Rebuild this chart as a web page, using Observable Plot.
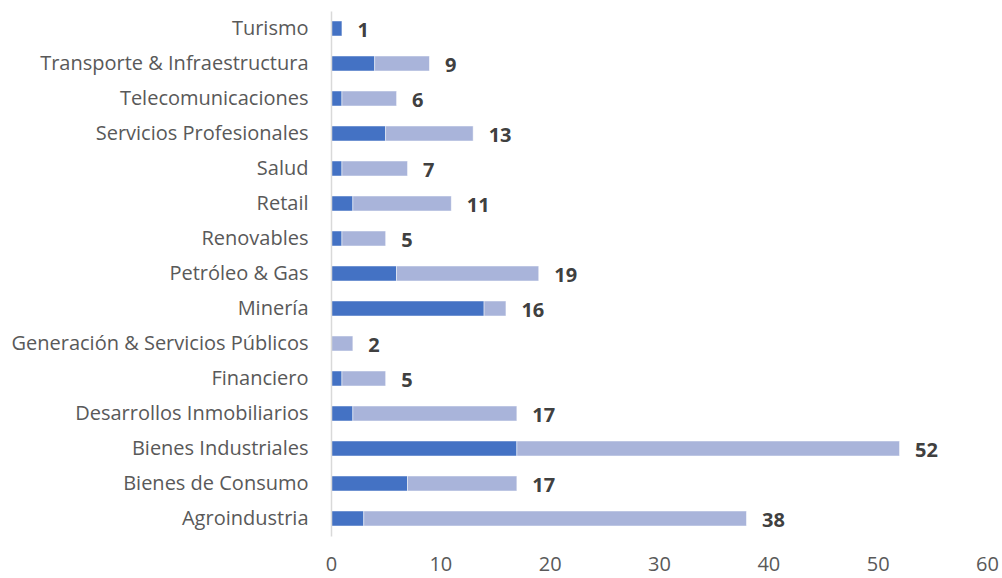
<!DOCTYPE html>
<html>
<head>
<meta charset="utf-8">
<script src="https://cdn.jsdelivr.net/npm/d3@7"></script>
<script src="https://cdn.jsdelivr.net/npm/@observablehq/plot@0.6"></script>
<style>
  html, body { margin: 0; padding: 0; background: #fff; }
  #chart svg { display: block; }
</style>
</head>
<body>
<div id="chart"></div>
<script>
const categories = [
  "Turismo",
  "Transporte & Infraestructura",
  "Telecomunicaciones",
  "Servicios Profesionales",
  "Salud",
  "Retail",
  "Renovables",
  "Petróleo & Gas",
  "Minería",
  "Generación & Servicios Públicos",
  "Financiero",
  "Desarrollos Inmobiliarios",
  "Bienes Industriales",
  "Bienes de Consumo",
  "Agroindustria"
];
const darkValues  = [1, 4, 1, 5, 1, 2, 1, 6, 14, 0, 1, 2, 17, 7, 3];
const totals      = [1, 9, 6, 13, 7, 11, 5, 19, 16, 2, 5, 17, 52, 17, 38];
const xTicks = [0, 10, 20, 30, 40, 50, 60];

const rows = [];
categories.forEach((c, i) => rows.push({cat: c, series: "a", value: darkValues[i]}));
categories.forEach((c, i) => rows.push({cat: c, series: "b", value: totals[i] - darkValues[i]}));
const totalRows = categories.map((c, i) => ({cat: c, total: totals[i]}));

const chart = Plot.plot({
  width: 1002,
  height: 578,
  marginLeft: 331,
  marginRight: 15,
  marginTop: 11.5,
  marginBottom: 41.5,
  style: {fontFamily: "'Open Sans', sans-serif", fontSize: "20px", color: "#595959", background: "#fff"},
  x: {domain: [0, 60], ticks: xTicks, label: null},
  y: {domain: categories, paddingInner: 0.57, paddingOuter: 0.285, label: null},
  color: {domain: ["a", "b"], range: ["#4472C4", "#A9B4DA"]},
  marks: [
    Plot.barX(rows, Plot.stackX({x: "value", y: "cat", fill: "series", order: null, stroke: "#ffffff", strokeWidth: 0.8, strokeOpacity: 0.6})),
    Plot.ruleX([0], {stroke: "#d9d9d9", strokeWidth: 1.5}),
    Plot.text(totalRows, {x: "total", y: "cat", text: d => String(d.total), textAnchor: "start", dx: 15, dy: 2, fontWeight: "bold", fontSize: 20, fill: "#404040"}),
    Plot.axisY({tickSize: 0, tickPadding: 23, fontSize: 20, fill: "#595959", label: null}),
    Plot.axisX({ticks: xTicks, tickSize: 0, tickPadding: 20, fontSize: 20, fill: "#595959", label: null})
  ]
});
document.getElementById("chart").appendChild(chart);
</script>
</body>
</html>
